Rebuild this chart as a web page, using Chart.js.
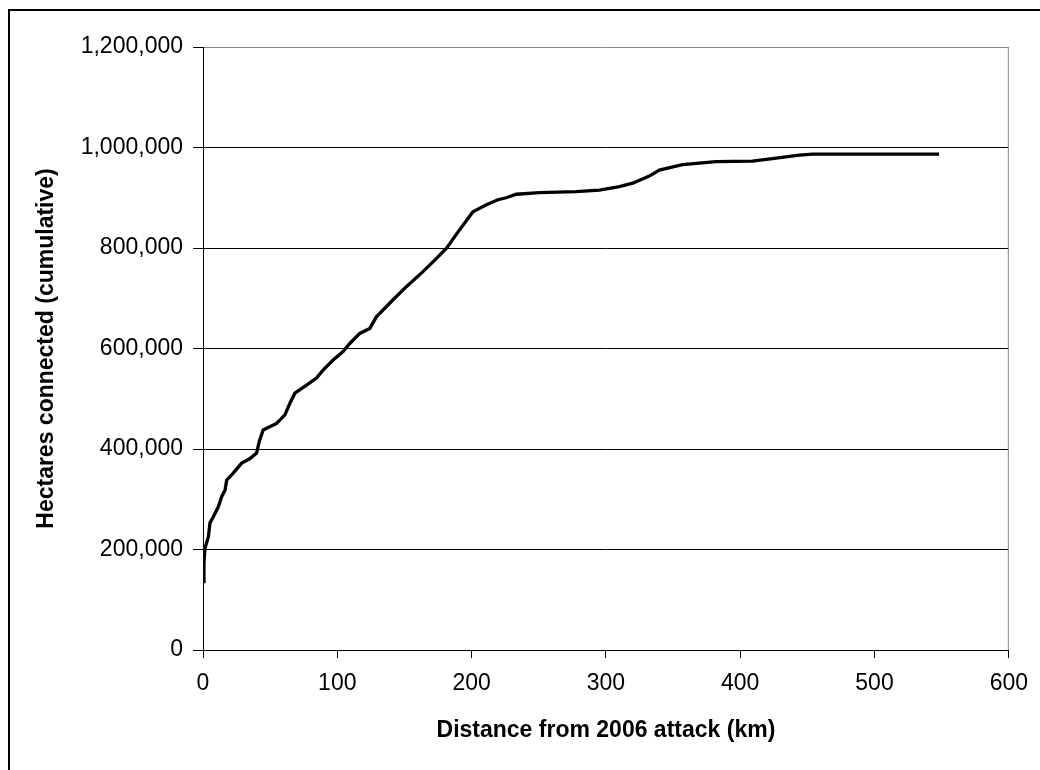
<!DOCTYPE html>
<html>
<head>
<meta charset="utf-8">
<script src="https://cdn.jsdelivr.net/npm/chart.js@4/dist/chart.umd.min.js"></script>
<style>
  body { margin: 0; background: #fff; }
  canvas { display: block; }
</style>
</head>
<body>
<canvas id="chart" width="1040" height="770"></canvas>
<script>
// values
const distKm = [0, 0.7, 1.5, 4, 5.2, 7.7, 11.4, 13.9, 16.4, 17.6, 22.5, 28.8, 35, 39.9, 41.9, 44.8,
    54.8, 61, 64.7, 68.4, 77.1, 84.5, 89.4, 96.9, 104.3, 109.3, 116.7, 124.2, 129.1, 131.6,
    141.5, 151.4, 163.8, 173.7, 181.2, 191, 201, 211, 219.6, 225.8, 233.2, 250.6, 277.8,
    295.2, 310, 320, 332.3, 339.8, 357, 382, 409, 424, 444, 454, 473.6, 548];
const hectares = [136000, 173000, 203000, 225000, 253000, 265000, 285000, 305000, 318000, 338000,
    352000, 372000, 381000, 392000, 415000, 438000, 451000, 468000, 491000, 511000, 527000,
    541000, 557000, 577000, 594000, 610000, 630000, 640000, 663000, 670000, 697000, 723000,
    753000, 779000, 799000, 836000, 872000, 886000, 896000, 900000, 907000, 910000, 912000,
    915000, 922000, 929000, 943000, 955000, 966000, 972000, 973000, 978000, 985000, 987000,
    987000, 987000];
const xTicks = [0, 100, 200, 300, 400, 500, 600];
const yTicks = [0, 200000, 400000, 600000, 800000, 1000000, 1200000];

const points = distKm.map((d, i) => ({ x: d, y: hectares[i] }));

// outer frame and right border of the plot area
const framePlugin = {
    id: 'frame',
    afterDraw(chart) {
        const c = chart.ctx;
        const a = chart.chartArea;
        c.save();
        c.strokeStyle = '#888';
        c.lineWidth = 1;
        c.beginPath();
        c.moveTo(a.right - 0.5, a.top);
        c.lineTo(a.right - 0.5, a.bottom);
        c.stroke();
        c.strokeStyle = '#000';
        c.lineWidth = 2;
        c.strokeRect(9, 10, 1200, 1200);
        c.restore();
    }
};

Chart.defaults.font.family = '"Liberation Sans", Arial, sans-serif';
Chart.defaults.color = '#000';

new Chart(document.getElementById('chart').getContext('2d'), {
    type: 'scatter',
    data: {
        datasets: [{
            data: points,
            showLine: true,
            borderColor: '#000',
            borderWidth: 3.3,
            pointRadius: 0,
            tension: 0
        }]
    },
    options: {
        responsive: false,
        animation: false,
        devicePixelRatio: 1,
        layout: { padding: { left: 0, top: 47, right: 29, bottom: 0 } },
        plugins: { legend: { display: false }, tooltip: { enabled: false } },
        scales: {
            x: {
                type: 'linear',
                min: 0,
                max: 600,
                afterFit: (s) => { s.height = 120; },
                afterBuildTicks: (s) => { s.ticks = xTicks.map(v => ({ value: v })); },
                ticks: { font: { size: 23 }, padding: 12, maxRotation: 0 },
                grid: {
                    color: 'transparent',
                    tickColor: '#000',
                    tickLength: 8
                },
                border: { color: '#000', width: 1 },
                title: {
                    display: true,
                    text: 'Distance from 2006 attack (km)',
                    font: { size: 23, weight: 'bold' },
                    padding: { bottom: 26 }
                }
            },
            y: {
                min: 0,
                max: 1200000,
                afterFit: (s) => { s.width = 203; },
                afterBuildTicks: (s) => { s.ticks = yTicks.map(v => ({ value: v })); },
                ticks: {
                    font: { size: 23 },
                    padding: 10,
                    callback: (v) => v.toLocaleString('en-US')
                },
                grid: {
                    color: (ctx) => ctx.index === yTicks.length - 1 ? '#888' : '#000',
                    tickColor: '#000',
                    tickLength: 10
                },
                border: { color: '#000', width: 1 },
                title: {
                    display: true,
                    text: 'Hectares connected (cumulative)',
                    font: { size: 23, weight: 'bold' },
                    padding: { top: 33 }
                }
            }
        }
    },
    plugins: [framePlugin]
});
</script>
</body>
</html>
